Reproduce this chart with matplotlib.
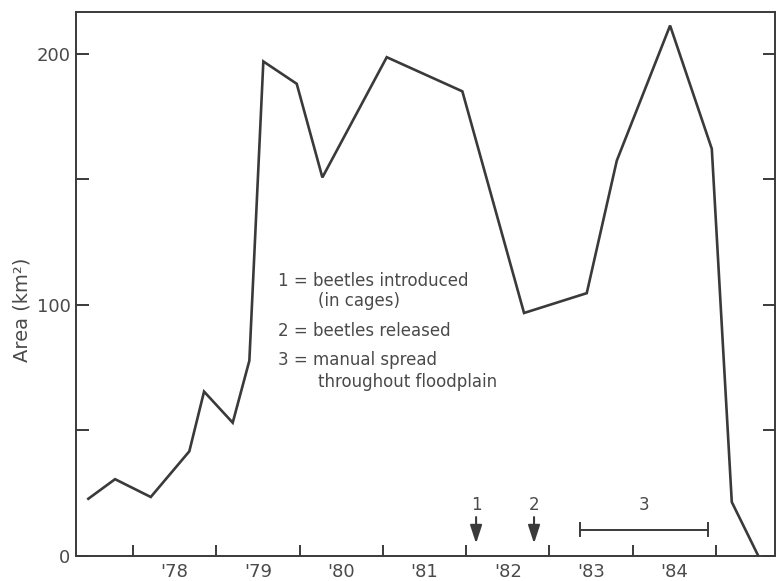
import matplotlib
matplotlib.use("Agg")
import matplotlib.pyplot as plt
from matplotlib.ticker import FixedLocator, NullFormatter

# ---- data ----
years = [1977.463, 1977.784, 1978.213, 1978.676, 1978.853, 1979.197, 1979.397,
         1979.565, 1979.966, 1980.274, 1981.047, 1981.955, 1982.696, 1983.449,
         1983.810, 1984.450, 1984.951, 1985.191, 1985.510]
area = [22.8, 30.6, 23.5, 41.7, 65.5, 53.1, 77.8,
        197.0, 188.1, 150.8, 198.7, 185.1, 96.8, 104.7,
        157.5, 211.3, 162.2, 21.5, 0.0]

year_bounds = [1978, 1979, 1980, 1981, 1982, 1983, 1984, 1985]
year_labels = ["'78", "'79", "'80", "'81", "'82", "'83", "'84"]
y_major = [0, 100, 200]
y_minor = [50, 150]

event_x = [1982.12, 1982.816]
event_labels = ["1", "2"]
spread_range = [1983.369, 1984.906]
spread_label = "3"

legend_lines = ["1 = beetles introduced", "(in cages)",
                "2 = beetles released",
                "3 = manual spread", "throughout floodplain"]
legend_indent = [False, True, False, False, True]

ink = "#3a3a3a"
txt = "#4a4a4a"

plt.rcParams['font.family'] = ['DejaVu Sans']

fig = plt.figure(figsize=(7.76, 5.81), dpi=100)
ax = fig.add_axes([76/776, 1 - 556/581, (775 - 76)/776, (556 - 12)/581])

ax.plot(years, area, color=ink, lw=1.9, solid_joinstyle='miter')

ax.set_xlim(1977.315, 1985.71)
ax.set_ylim(0, 216.7)

for s in ax.spines.values():
    s.set_color(ink)
    s.set_linewidth(1.4)

# x ticks at year boundaries, labels centred in each year
ax.xaxis.set_major_locator(FixedLocator(year_bounds))
ax.xaxis.set_major_formatter(NullFormatter())
mids = [b + 0.5 for b in year_bounds[:-1]]
ax.xaxis.set_minor_locator(FixedLocator(mids))
ax.set_xticklabels(year_labels, minor=True)
ax.tick_params(axis='x', which='major', direction='in', length=8, width=1.4,
               color=ink)
ax.tick_params(axis='x', which='minor', length=0, pad=5, labelsize=13,
               labelcolor=txt)

# y ticks
ax.set_yticks(y_major)
ax.set_yticklabels([str(v) for v in y_major])
ax.yaxis.set_minor_locator(FixedLocator(y_minor))
ax.tick_params(axis='y', which='both', direction='in', length=9, width=1.4,
               color=ink, left=True, right=True, labelsize=13, labelcolor=txt,
               pad=4)

ax.set_ylabel('Area (km²)', fontsize=14, color=txt, va='center')
ax.yaxis.set_label_coords(-0.077, 0.452)

# annotation text block
ys = [109.4, 101.4, 89.7, 78.1, 69.3]
for line, yv, ind in zip(legend_lines, ys, legend_indent):
    ax.text(1980.222 if ind else 1979.74, yv, line, fontsize=12, color=txt,
            va='center', ha='left')

# event arrows
for ex, el in zip(event_x, event_labels):
    ax.annotate('', xy=(ex, 5.0), xytext=(ex, 15.5),
                arrowprops=dict(arrowstyle='-|>,head_length=1.1,head_width=0.36',
                                color=ink, lw=1.5, mutation_scale=10,
                                shrinkA=0, shrinkB=0))
    ax.text(ex, 20.3, el, fontsize=12, color=txt, ha='center', va='center')

# manual spread bar
ybar = 10.4
ax.plot(spread_range, [ybar, ybar], color=ink, lw=1.4)
for sx in spread_range:
    ax.plot([sx, sx], [ybar - 2.6, ybar + 2.6], color=ink, lw=1.4)
ax.text(sum(spread_range) / 2, 20.3, spread_label, fontsize=12, color=txt,
        ha='center', va='center')

fig.savefig('out.png', dpi=100)
